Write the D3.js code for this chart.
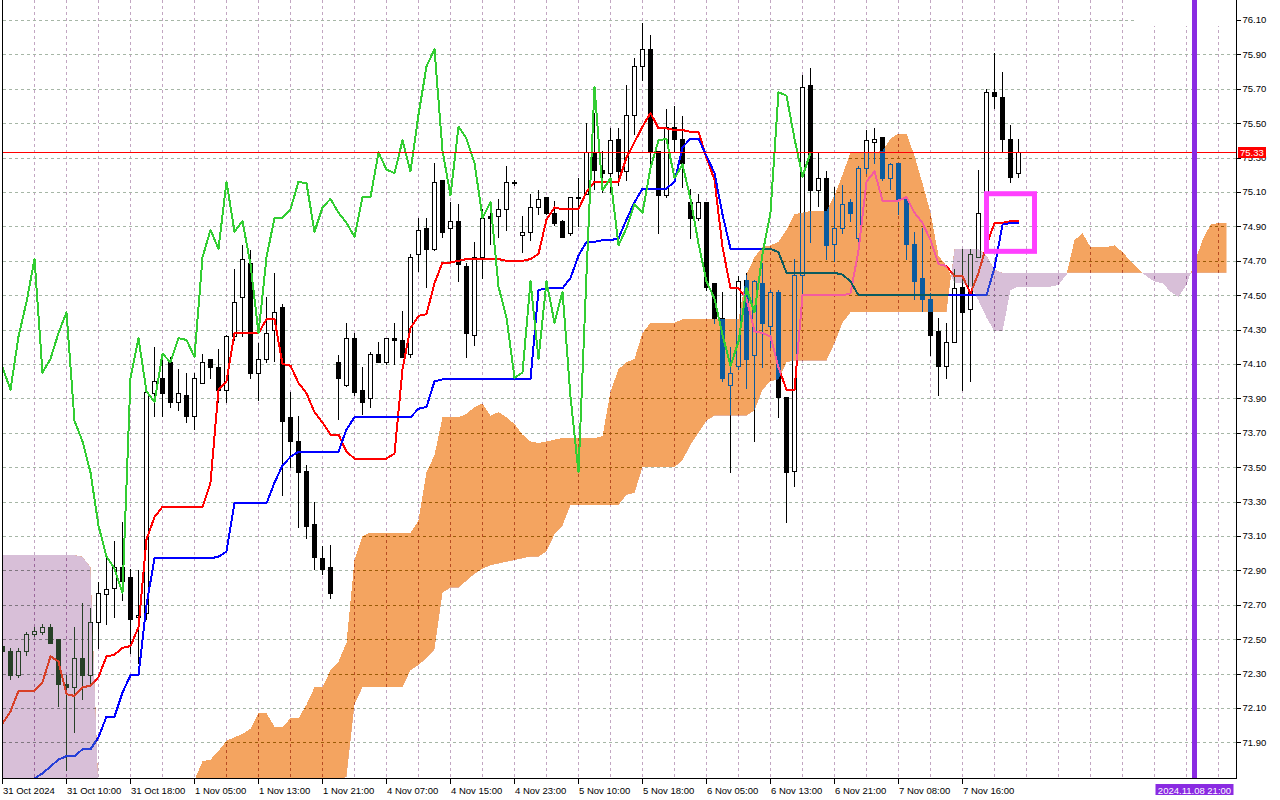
<!DOCTYPE html>
<html>
<head>
<meta charset="utf-8">
<script src="https://cdn.jsdelivr.net/npm/d3@7"></script>
<style>
  html, body { margin: 0; padding: 0; background: #fff; }
  svg { display: block; }
  text { font-family: "Liberation Sans", Arial, sans-serif; font-size: 9.5px; }
</style>
</head>
<body>
<div id="container"></div>
<script>
// hourly bars, 31 Oct 2024 .. 7 Nov 2024
var open = [72.46,72.43,72.29,72.43,72.53,72.54,72.57,72.50,72.24,72.22,
  72.39,72.29,72.60,72.76,72.80,72.92,72.86,72.63,72.65,73.93,
  74.02,74.11,73.88,73.92,73.80,73.99,74.13,74.08,73.95,74.26,
  74.49,74.69,74.05,74.13,74.30,74.43,73.79,73.65,73.48,73.17,
  72.97,72.92,74.11,73.98,74.25,73.95,73.90,74.16,74.11,74.25,
  74.24,74.16,74.74,74.89,74.77,75.17,74.89,74.93,74.67,74.27,
  74.72,74.96,74.96,75.00,75.16,74.85,74.87,75.01,75.07,74.98,
  74.93,74.86,75.07,75.09,75.33,75.23,75.21,75.41,75.22,75.55,
  75.83,75.93,75.34,75.08,75.48,75.41,75.04,74.95,75.04,74.57,
  74.37,73.98,74.09,74.59,74.15,74.57,74.32,74.52,73.91,73.48,
  74.62,75.72,75.11,75.18,74.80,74.89,75.04,74.83,75.24,75.39,
  75.42,75.18,75.27,75.06,74.80,74.60,74.48,74.29,74.09,74.23,
  74.55,74.42,74.72,74.78,75.68,75.65,75.41,75.21]
var high = [72.47,72.45,72.45,72.54,72.57,72.59,72.59,72.50,72.29,72.57,
  72.71,72.68,72.83,72.97,73.07,73.18,72.91,72.90,73.96,74.20,
  74.13,74.14,74.07,74.05,74.05,74.16,74.13,74.19,74.27,74.65,
  74.79,74.76,74.22,74.49,74.63,74.45,73.94,73.80,73.51,73.30,
  73.04,73.05,74.15,74.34,74.28,74.08,74.17,74.23,74.25,74.34,
  74.41,74.74,74.95,74.95,75.27,75.17,75.04,75.03,74.69,74.81,
  75.00,74.98,75.06,75.25,75.17,74.96,75.09,75.11,75.07,75.05,
  74.94,75.07,75.18,75.50,75.56,75.34,75.47,75.47,75.72,75.88,
  76.08,76.01,75.34,75.58,75.60,75.54,75.12,75.09,75.04,74.57,
  74.52,74.20,74.61,74.63,74.59,74.69,74.53,74.53,73.91,74.71,
  75.78,75.82,75.33,75.22,75.13,75.14,75.06,75.25,75.46,75.47,
  75.42,75.27,75.27,75.06,74.87,74.89,74.51,74.37,74.34,74.65,
  74.77,74.77,75.23,75.70,75.91,75.80,75.49,75.41]
var low = [72.42,72.27,72.28,72.41,72.52,72.53,72.48,72.11,71.74,71.96,
  72.15,72.23,72.45,72.59,72.63,72.73,72.42,72.36,72.62,73.80,
  73.80,73.85,73.83,73.76,73.72,73.99,74.02,73.88,73.88,74.24,
  74.26,74.02,73.89,74.11,74.12,73.34,73.50,73.15,73.09,72.91,
  72.88,72.74,73.78,73.97,73.92,73.81,73.85,74.11,74.10,74.10,
  74.14,74.14,74.64,74.55,74.76,74.84,74.69,74.58,74.14,74.21,
  74.60,74.80,74.84,74.88,75.14,74.75,74.82,74.97,74.97,74.91,
  74.84,74.85,74.90,75.09,75.12,75.10,75.10,75.14,75.17,75.44,
  75.75,75.26,74.86,75.07,75.34,75.13,74.83,74.94,74.53,74.34,
  74.00,73.47,74.07,73.96,73.65,74.08,74.20,73.79,73.18,73.39,
  74.49,74.81,75.02,74.71,74.70,74.86,74.93,74.78,75.21,75.27,
  75.17,75.12,74.97,74.71,74.48,74.41,74.15,73.92,74.02,74.23,
  73.95,74.00,74.72,74.78,75.59,75.34,75.16,75.19]
var close = [72.43,72.29,72.43,72.53,72.55,72.57,72.48,72.24,72.22,72.39,
  72.29,72.60,72.77,72.79,72.92,72.84,72.62,72.64,73.94,74.00,
  73.93,73.88,73.93,73.80,74.02,74.11,74.08,73.95,74.26,74.46,
  74.71,74.05,74.13,74.28,74.40,73.77,73.65,73.47,73.16,72.98,
  72.91,72.77,74.02,74.25,73.94,73.88,74.16,74.11,74.25,74.24,
  74.14,74.72,74.88,74.77,75.16,74.87,74.93,74.68,74.28,74.72,
  74.95,74.95,75.00,75.16,75.15,74.87,75.01,75.06,74.98,74.92,
  74.84,75.07,75.07,75.33,75.23,75.21,75.40,75.22,75.55,75.83,
  75.93,75.34,75.08,75.48,75.41,75.27,74.95,75.04,74.55,74.37,
  74.02,74.05,74.58,74.13,74.58,74.34,74.52,73.91,73.47,74.62,
  75.71,75.11,75.18,74.79,74.89,75.03,74.98,75.24,75.40,75.41,
  75.18,75.26,75.06,74.80,74.58,74.48,74.27,74.09,74.23,74.54,
  74.40,74.74,74.98,75.68,75.66,75.41,75.19,75.33]

// Ichimoku lines
var tenkan = [72.01,72.08,72.20,72.20,72.20,72.25,72.40,72.37,72.18,72.17,
  72.22,72.23,72.28,72.40,72.41,72.45,72.46,72.57,73.08,73.21,
  73.27,73.27,73.27,73.27,73.27,73.27,73.41,73.95,74.00,74.28,
  74.28,74.28,74.28,74.36,74.36,74.10,74.09,73.99,73.93,73.82,
  73.76,73.69,73.69,73.59,73.55,73.55,73.55,73.55,73.55,73.58,
  74.07,74.31,74.38,74.39,74.57,74.69,74.69,74.70,74.71,74.71,
  74.71,74.71,74.71,74.70,74.70,74.70,74.71,74.74,74.94,75.01,
  75.00,75.00,75.00,75.10,75.16,75.16,75.16,75.16,75.30,75.39,
  75.48,75.56,75.47,75.47,75.46,75.46,75.45,75.45,75.30,75.17,
  74.78,74.54,74.54,74.48,74.29,74.28,74.26,74.08,73.95,73.95,
  74.50,74.50,74.50,74.50,74.50,74.50,74.51,74.76,75.16,75.22,
  75.05,75.05,75.05,75.07,74.98,74.92,74.82,74.68,74.67,74.61,
  74.61,74.51,74.63,74.79,74.92,74.92,74.93,74.93]
var kijun = [71.60,71.62,71.64,71.66,71.69,71.72,71.76,71.80,71.82,71.82,
  71.86,71.86,71.93,72.05,72.05,72.19,72.29,72.29,72.70,72.97,
  72.97,72.97,72.97,72.97,72.97,72.97,72.97,72.98,73.01,73.29,
  73.29,73.29,73.29,73.29,73.41,73.51,73.56,73.59,73.59,73.59,
  73.59,73.59,73.59,73.72,73.79,73.79,73.79,73.79,73.79,73.79,
  73.79,73.79,73.84,73.85,74.00,74.01,74.01,74.01,74.01,74.01,
  74.01,74.01,74.01,74.01,74.01,74.01,74.01,74.53,74.54,74.54,
  74.54,74.60,74.73,74.81,74.81,74.82,74.82,74.83,74.94,75.04,
  75.12,75.12,75.12,75.12,75.16,75.36,75.41,75.41,75.31,75.21,
  74.97,74.77,74.77,74.77,74.77,74.77,74.77,74.75,74.63,74.63,
  74.63,74.63,74.63,74.63,74.63,74.62,74.58,74.50,74.50,74.50,
  74.50,74.50,74.50,74.50,74.50,74.50,74.50,74.50,74.50,74.50,
  74.50,74.50,74.50,74.50,74.66,74.91,74.92,74.92]
// senkou spans run 26 bars past the last candle
var spanA = [71.42,71.43,71.44,71.44,71.45,71.46,71.46,71.47,71.48,71.48,
  71.49,71.50,71.45,71.40,71.42,71.44,71.46,71.48,71.50,71.52,
  71.55,71.58,71.61,71.64,71.68,71.79,71.80,71.85,71.91,71.93,
  71.95,71.98,72.07,72.07,71.99,71.99,72.04,72.04,72.12,72.22,
  72.22,72.32,72.37,72.48,72.96,73.10,73.12,73.12,73.12,73.12,
  73.12,73.12,73.19,73.47,73.57,73.79,73.79,73.79,73.81,73.85,
  73.87,73.80,73.82,73.79,73.75,73.69,73.65,73.64,73.65,73.66,
  73.67,73.67,73.67,73.67,73.67,73.68,73.94,74.07,74.11,74.13,
  74.28,74.34,74.34,74.34,74.34,74.36,74.36,74.36,74.36,74.36,
  74.36,74.36,74.36,74.62,74.72,74.78,74.79,74.81,74.88,74.97,
  74.98,74.99,74.99,74.99,75.08,75.20,75.33,75.33,75.33,75.33,
  75.34,75.41,75.44,75.44,75.31,75.15,74.98,74.73,74.67,74.57,
  74.57,74.55,74.47,74.37,74.29,74.29,74.53,74.55,74.55,74.55,
  74.55,74.55,74.56,74.62,74.82,74.86,74.78,74.78,74.78,74.79,
  74.75,74.70,74.65,74.61,74.58,74.57,74.52,74.49,74.56,74.69,
  74.82,74.91,74.92,74.92]
var spanB = [72.99,72.99,72.99,72.99,72.99,72.99,72.99,72.99,72.99,72.99,
  72.98,72.92,71.62,71.30,71.30,71.30,71.30,71.30,71.30,71.30,
  71.30,71.30,71.30,71.30,71.30,71.30,71.30,71.30,71.30,71.30,
  71.30,71.30,71.30,71.30,71.30,71.40,71.45,71.50,71.55,71.60,
  71.62,71.66,71.68,71.70,72.12,72.22,72.22,72.22,72.22,72.22,
  72.22,72.32,72.35,72.39,72.44,72.77,72.80,72.80,72.84,72.88,
  72.91,72.93,72.94,72.95,72.96,72.97,72.98,72.98,73.01,73.11,
  73.16,73.28,73.28,73.28,73.28,73.28,73.28,73.28,73.34,73.35,
  73.50,73.50,73.50,73.50,73.50,73.54,73.63,73.70,73.77,73.80,
  73.80,73.80,73.80,73.80,73.83,73.95,74.00,74.01,74.11,74.12,
  74.12,74.12,74.12,74.12,74.22,74.34,74.40,74.40,74.40,74.40,
  74.40,74.40,74.40,74.40,74.40,74.40,74.40,74.40,74.40,74.77,
  74.77,74.77,74.77,74.73,74.65,74.63,74.63,74.63,74.63,74.63,
  74.63,74.63,74.63,74.63,74.63,74.63,74.63,74.63,74.63,74.63,
  74.63,74.63,74.63,74.63,74.63,74.63,74.63,74.63,74.63,74.63,
  74.63,74.63,74.63,74.63]
var chikouShift = 26

var timeTickBars = [0,8,16,24,32,40,48,56,64,72,80,88,96,104,112,120]
var timeTickLabels = ['31 Oct 2024','31 Oct 10:00','31 Oct 18:00','1 Nov 05:00','1 Nov 13:00',
  '1 Nov 21:00','4 Nov 07:00','4 Nov 15:00','4 Nov 23:00','5 Nov 10:00','5 Nov 18:00',
  '6 Nov 05:00','6 Nov 13:00','6 Nov 21:00','7 Nov 08:00','7 Nov 16:00']
var priceTicks = [71.90,72.10,72.30,72.50,72.70,72.90,73.10,73.30,73.50,73.70,73.90,
  74.10,74.30,74.50,74.70,74.90,75.10,75.30,75.50,75.70,75.90,76.10]
var bidPrice = 75.33
var markerBar = 149, markerLabel = '2024.11.08 21:00'
var box = { from: 123, to: 129, top: 75.09, bottom: 74.755 }

var plotLeft = 2.5, plotRight = 1236.5, plotBottom = 778.5

var x = d3.scaleLinear().domain([0, 1]).range([2.5, 10.5])
var y = d3.scaleLinear().domain([71.90, 76.10]).range([742.4, 20])
var py = function (p) { return Math.round(y(p)) + 0.5 }

var svg = d3.select('#container').append('svg')
  .attr('width', 1280).attr('height', 800)

var defs = svg.append('defs')
defs.append('clipPath').attr('id', 'plot-clip')
  .append('rect').attr('x', 3).attr('y', 0).attr('width', plotRight - 3).attr('height', plotBottom)

var cloudIdx = d3.range(spanA.length)
var aboveB = d3.area().x(x).y0(function (i) { return y(spanB[i]) }).y1(-50)
var belowB = d3.area().x(x).y0(function (i) { return y(spanB[i]) }).y1(900)
defs.append('clipPath').attr('id', 'above-b').append('path').attr('d', aboveB(cloudIdx))
defs.append('clipPath').attr('id', 'below-b').append('path').attr('d', belowB(cloudIdx))

svg.append('rect').attr('width', 1280).attr('height', 800).attr('fill', '#fff')

var plot = svg.append('g').attr('clip-path', 'url(#plot-clip)')
plot.append('rect').attr('width', 1280).attr('height', 800).attr('fill', '#fff')

// grid
plot.append('g').selectAll('line')
  .data(d3.range(0, spanA.length, 4))
  .enter().append('line')
  .attr('x1', x).attr('x2', x)
  .attr('y1', 0).attr('y2', plotBottom)
  .attr('stroke', '#c2a6c2').attr('stroke-dasharray', '3,3')
  .attr('shape-rendering', 'crispEdges')

plot.append('g').selectAll('line')
  .data(priceTicks)
  .enter().append('line')
  .attr('x1', 3).attr('x2', plotRight)
  .attr('y1', py).attr('y2', py)
  .attr('stroke', '#a6b6a6').attr('stroke-dasharray', '3,3')
  .attr('shape-rendering', 'crispEdges')

// candles
var bars = plot.append('g').selectAll('g')
  .data(d3.range(close.length))
  .enter().append('g')
  .attr('shape-rendering', 'crispEdges')

bars.append('line')
  .attr('x1', x).attr('x2', x)
  .attr('y1', function (i) { return Math.round(y(high[i])) })
  .attr('y2', function (i) { return Math.round(y(low[i])) + 1 })
  .attr('stroke', '#000')

bars.append('rect')
  .attr('x', function (i) { return x(i) - 2 })
  .attr('width', 4)
  .attr('y', function (i) { return py(Math.max(open[i], close[i])) })
  .attr('height', function (i) {
    return Math.max(1, Math.round(y(Math.min(open[i], close[i]))) - Math.round(y(Math.max(open[i], close[i]))))
  })
  .attr('fill', function (i) { return close[i] >= open[i] ? '#fff' : '#000' })
  .attr('stroke', '#000')

// tenkan and kijun sit under the cloud
var line = function (arr) {
  return d3.line().x(x).y(function (i) { return y(arr[i]) })(d3.range(arr.length))
}
plot.append('path').attr('d', line(tenkan))
  .attr('fill', 'none').attr('stroke', '#ff0000').attr('stroke-width', 2)
  .attr('stroke-linejoin', 'round').attr('shape-rendering', 'crispEdges')
plot.append('path').attr('d', line(kijun))
  .attr('fill', 'none').attr('stroke', '#0000ff').attr('stroke-width', 2)
  .attr('stroke-linejoin', 'round').attr('shape-rendering', 'crispEdges')

// cloud: xor-like fill, sandy brown where A > B, thistle where B > A
var between = d3.area().x(x)
  .y0(function (i) { return y(spanB[i]) })
  .y1(function (i) { return y(spanA[i]) })
plot.append('path').attr('d', between(cloudIdx))
  .attr('clip-path', 'url(#above-b)')
  .attr('fill', 'rgb(11,91,159)')
  .attr('shape-rendering', 'crispEdges')
  .style('mix-blend-mode', 'difference')
plot.append('path').attr('d', between(cloudIdx))
  .attr('clip-path', 'url(#below-b)')
  .attr('fill', 'rgb(39,64,39)')
  .attr('shape-rendering', 'crispEdges')
  .style('mix-blend-mode', 'difference')

// chikou = close drawn 26 bars back
var chikouIdx = d3.range(close.length - chikouShift)
plot.append('path')
  .attr('d', d3.line().x(x).y(function (i) { return y(close[i + chikouShift]) })(chikouIdx))
  .attr('fill', 'none').attr('stroke', '#32cd32').attr('stroke-width', 2)
  .attr('stroke-linejoin', 'round').attr('shape-rendering', 'crispEdges')

plot.append('line')
  .attr('x1', 3).attr('x2', plotRight)
  .attr('y1', py(bidPrice)).attr('y2', py(bidPrice))
  .attr('stroke', '#ff0000').attr('shape-rendering', 'crispEdges')

plot.append('rect')
  .attr('x', x(box.from)).attr('width', x(box.to) - x(box.from))
  .attr('y', y(box.top)).attr('height', y(box.bottom) - y(box.top))
  .attr('fill', 'none').attr('stroke', '#ff40ff').attr('stroke-width', 5)

plot.append('rect').attr('x', 1136).attr('y', 0).attr('width', 101).attr('height', 26).attr('fill', '#fff')

plot.append('line')
  .attr('x1', x(markerBar)).attr('x2', x(markerBar))
  .attr('y1', 0).attr('y2', plotBottom)
  .attr('stroke', '#8a2be2').attr('stroke-width', 5)

// frame
var frame = svg.append('g').attr('stroke', '#000').attr('shape-rendering', 'crispEdges')
frame.append('line').attr('x1', plotLeft).attr('x2', plotLeft).attr('y1', 0).attr('y2', plotBottom)
frame.append('line').attr('x1', plotLeft).attr('x2', plotRight).attr('y1', plotBottom).attr('y2', plotBottom)
frame.append('line').attr('x1', plotRight).attr('x2', plotRight).attr('y1', 0).attr('y2', plotBottom)

// price axis
var pAxis = svg.append('g')
pAxis.selectAll('line').data(priceTicks).enter().append('line')
  .attr('x1', plotRight).attr('x2', plotRight + 4)
  .attr('y1', py).attr('y2', py)
  .attr('stroke', '#000').attr('shape-rendering', 'crispEdges')
pAxis.selectAll('text').data(priceTicks).enter().append('text')
  .attr('x', plotRight + 6).attr('y', y).attr('dy', '0.35em')
  .text(function (d) { return d.toFixed(2) })

// time axis
var tAxis = svg.append('g')
tAxis.selectAll('line').data(timeTickBars).enter().append('line')
  .attr('x1', x).attr('x2', x)
  .attr('y1', plotBottom).attr('y2', plotBottom + 5)
  .attr('stroke', '#000').attr('shape-rendering', 'crispEdges')
tAxis.selectAll('text').data(timeTickBars).enter().append('text')
  .attr('x', function (d) { return x(d) + 0.5 }).attr('y', 794)
  .text(function (d, k) { return timeTickLabels[k] })

// bid label (covers the 75.30 tick like the terminal does)
svg.append('rect').attr('x', 1238).attr('y', py(bidPrice) - 5.5).attr('width', 28).attr('height', 11).attr('fill', '#ff0000')
svg.append('text').attr('x', 1240).attr('y', y(bidPrice)).attr('dy', '0.35em').attr('fill', '#fff')
  .text(bidPrice.toFixed(2))

// marker time label
svg.append('rect').attr('x', x(markerBar) - 39).attr('y', 784).attr('width', 78).attr('height', 11).attr('fill', '#8a2be2')
svg.append('text').attr('x', x(markerBar)).attr('y', 793.5).attr('text-anchor', 'middle').attr('fill', '#fff')
  .text(markerLabel)
</script>
</body>
</html>
